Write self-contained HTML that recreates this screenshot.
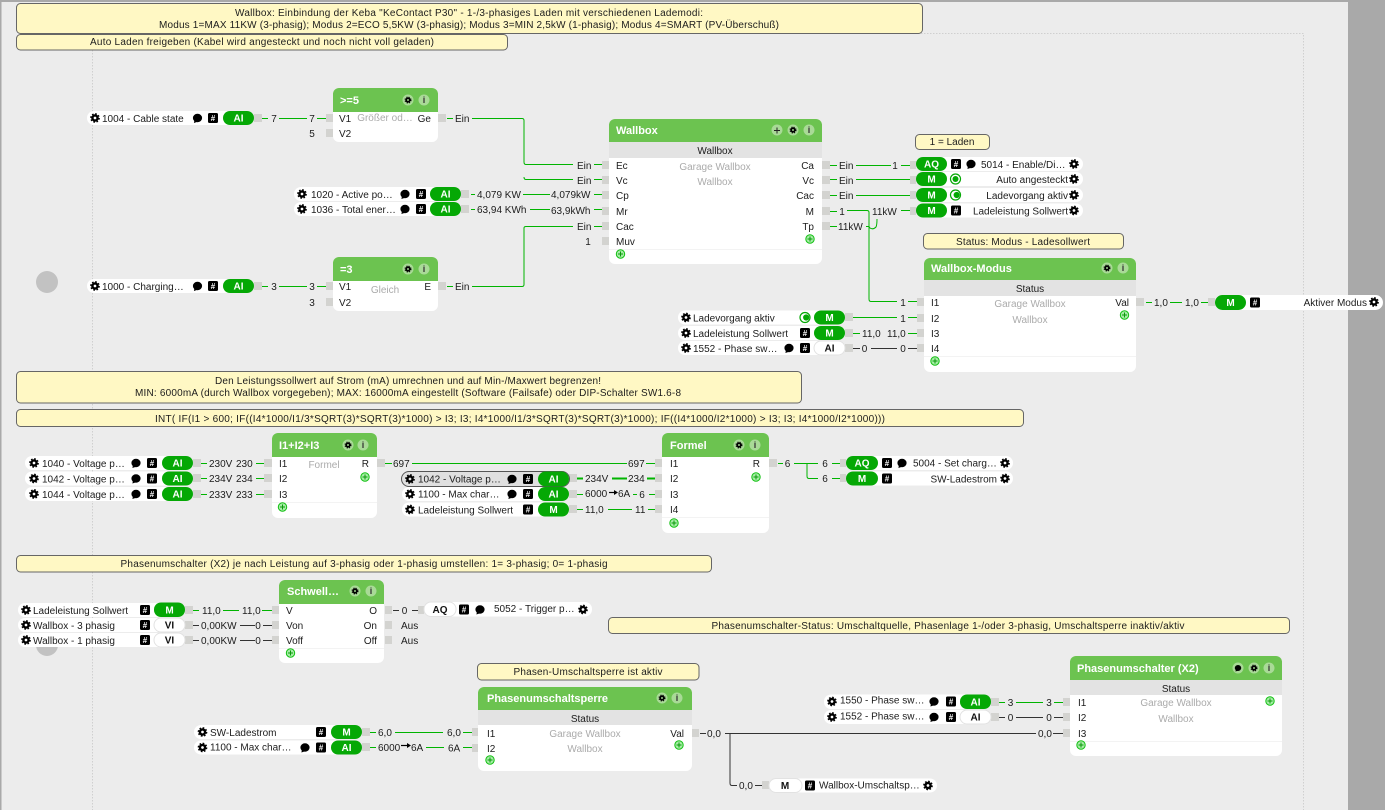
<!DOCTYPE html>
<html><head><meta charset="utf-8"><style>
html,body{margin:0;padding:0;background:#ececec;width:1385px;height:810px;overflow:hidden}
svg{display:block}
text{font-family:"Liberation Sans",sans-serif;font-size:10px;fill:#1c1c1c}
.m{text-anchor:middle}.e{text-anchor:end}
.g{fill:#ababab;text-anchor:middle}
.ti{font-size:11px;font-weight:bold;fill:#fff}
.p{font-weight:bold;fill:#fff;text-anchor:middle}
.d{font-weight:bold;fill:#111;text-anchor:middle}
.hs{font-size:8px;font-weight:bold;fill:#fff;text-anchor:middle}
.ii{font-size:9px;font-weight:bold;fill:#333;text-anchor:middle}
.lg{fill:none;stroke:#00b400;stroke-width:1}
.ld{fill:none;stroke:#333;stroke-width:1}
.n{fill:#fff8c4;stroke:#666;stroke-width:1}
.w{fill:#fff}.gr{fill:#05a805}.po{fill:#d3d3d0}.sb{fill:#e3e3e3}.he{fill:#6cc350}.hc{fill:#a9da97}
.wp{fill:#fff;stroke:#e2e2e2;stroke-width:1}
</style></head><body>
<svg width="1385" height="810" viewBox="0 0 1385 810" xmlns="http://www.w3.org/2000/svg">
<defs>
<g id="ge"><circle r="2.6" fill="none" stroke="#000" stroke-width="2.4"/><circle r="4.2" fill="none" stroke="#000" stroke-width="1.3" stroke-dasharray="1.7 1.6"/></g>
<g id="bb"><ellipse rx="4.6" ry="4.2" fill="#000"/><path d="M-3,2 L-3.6,5 L0.5,3.6z" fill="#000"/></g>
<rect id="hb" x="-5" y="-5" width="10" height="10" rx="1.5" fill="#000"/>
<g id="pl"><circle r="4.2" fill="#a6eca6" stroke="#10c010" stroke-width="1"/><path d="M-2.5,0H2.5M0,-2.5V2.5" stroke="#0a9a0a" stroke-width="1"/></g>
<g id="ra"><circle r="5" fill="#fff" stroke="#05a805" stroke-width="1.2"/><circle r="3" fill="#05a805"/></g>
<g id="to"><circle r="5" fill="#fff" stroke="#05a805" stroke-width="1.2"/><circle cx="1.2" r="3.1" fill="#05a805"/></g>
<g id="hg"><circle r="5.5" fill="#a9da97"/><circle r="1.8" fill="none" stroke="#000" stroke-width="1.7"/><circle r="3" fill="none" stroke="#000" stroke-width="1" stroke-dasharray="1.2 1.2"/></g>
<g id="hi"><circle r="5.5" fill="#a9da97"/></g>
</defs>

<rect width="1385" height="810" fill="#ececec"/>
<rect x="1348" width="37" height="810" fill="#a9a9a9"/>
<rect width="1.5" height="810" fill="#a9a9a9"/>
<rect width="1385" height="2" fill="#a9a9a9"/>
<path d="M92.500,50V810M507,33.500H1303.500V810" fill="none" stroke="#cfcfcf" stroke-dasharray="1.5 1.5"/>
<circle cx="47" cy="282" r="11" fill="#c2c2c2"/>
<circle cx="47" cy="645" r="11" fill="#c2c2c2"/>

<!-- notes -->
<rect class="n" x="16.500" y="3.500" width="906" height="30" rx="4"/>
<text class="m" x="469" y="16" textLength="468">Wallbox: Einbindung der Keba "KeContact P30" - 1-/3-phasiges Laden mit verschiedenen Lademodi:</text>
<text class="m" x="469" y="28" textLength="620">Modus 1=MAX 11KW (3-phasig); Modus 2=ECO 5,5KW (3-phasig); Modus 3=MIN 2,5kW (1-phasig); Modus 4=SMART (PV-Überschuß)</text>
<rect class="n" x="16.500" y="34.500" width="491" height="15.500" rx="4"/>
<text x="90" y="45" textLength="344">Auto Laden freigeben (Kabel wird angesteckt und noch nicht voll geladen)</text>
<rect class="n" x="915.500" y="134.500" width="74" height="15" rx="4"/>
<text class="m" x="952" y="145">1 = Laden</text>
<rect class="n" x="923.500" y="233.500" width="200" height="15.500" rx="4"/>
<text class="m" x="1023" y="245" textLength="134">Status: Modus - Ladesollwert</text>
<rect class="n" x="16.500" y="371.500" width="785" height="31.500" rx="4"/>
<text class="m" x="408" y="384" textLength="386">Den Leistungssollwert auf Strom (mA) umrechnen und auf Min-/Maxwert begrenzen!</text>
<text class="m" x="408" y="396" textLength="546">MIN: 6000mA (durch Wallbox vorgegeben); MAX: 16000mA eingestellt (Software (Failsafe) oder DIP-Schalter SW1.6-8</text>
<rect class="n" x="16.500" y="409.500" width="1007" height="17" rx="4"/>
<text class="m" x="520" y="422" textLength="730">INT( IF(I1 &gt; 600; IF((I4*1000/I1/3*SQRT(3)*SQRT(3)*1000) &gt; I3; I3; I4*1000/I1/3*SQRT(3)*SQRT(3)*1000); IF((I4*1000/I2*1000) &gt; I3; I3; I4*1000/I2*1000)))</text>
<rect class="n" x="16.500" y="555.500" width="695" height="16.500" rx="4"/>
<text class="m" x="364" y="567" textLength="487">Phasenumschalter (X2) je nach Leistung auf 3-phasig oder 1-phasig umstellen: 1= 3-phasig; 0= 1-phasig</text>
<rect class="n" x="608.500" y="617.500" width="681" height="16" rx="4"/>
<text class="m" x="948" y="629" textLength="473">Phasenumschalter-Status: Umschaltquelle, Phasenlage 1-/oder 3-phasig, Umschaltsperre inaktiv/aktiv</text>
<rect class="n" x="477.500" y="663.500" width="221.500" height="16.500" rx="4"/>
<text class="m" x="588" y="675" textLength="149">Phasen-Umschaltsperre ist aktiv</text>

<!-- connectors -->
<path class="lg" d="M262,118.500H268M279,118.500H307M317,118.500H326M262,286.500H268M279,286.500H307M317,286.500H326
M447,118.500H453M472,118.500H522Q524,118.500 524,120.500V162Q524,164.500 526,164.500H573M524,177Q524,179.500 526,179.500H573M594,164.500H602M594,179.500H602
M447,286.500H453M472,286.500H522Q524,286.500 524,284.500V228Q524,226.500 526,226.500H573M594,226.500H602
M471,194.500H475M523,194.500H550M594,194.500H602M471,209.500H475M530,209.500H550M594,209.500H602
M830,165.500H837M856,165.500H891M901,165.500H910M830,179.500H837M856,179.500H910M830,195.500H837M856,195.500H910
M830,211.500H837M847,210.500H867Q869,210.500 869,212.500V299Q869,301.500 871,301.500H897M908,301.500H917M901,210.500H910
M830,226.500H837M866,226.500H869Q869,226.500 870,228Q873,230 876,227Q877,225 877,219
M853,317.500H897M908,317.500H917M853,333.500H860M908,333.500H917
M1146,302.500H1152M1170,302.500H1182M1201,302.500H1208
M201,463.500H207M256,463.500H264M201,478.500H207M256,478.500H264M201,494.500H207M256,494.500H264
M385,463.500H392M412,463.500H627M646,463.500H655
M577,494.500H583M633,494.500H637M649,494.500H655M577,509.500H583M608,509.500H632M648,509.500H655
M778,463.500H783M794,463.500H818M832,463.500H840M807,463.500V476Q807,478.500 809,478.500H818M832,478.500H840
M193,610.500H199M223,610.500H239M262,610.500H272
M370,732.500H376M395,732.500H443M463,732.500H472M370,747.500H376M426,747.500H444M463,747.500H472
M999,702.500H1005M1016,702.500H1043M1054,702.500H1063"/>
<path d="M577,478.500H583M612,478.500H627M647,478.500H655" fill="none" stroke="#00b400" stroke-width="2"/>
<path class="ld" d="M853,348.500H860M871,348.500H897M908,348.500H917
M193,625.500H199M240,625.500H255M263,625.500H272M193,640.500H199M240,640.500H255M263,640.500H272
M393,610.500H399M412,610.500H418
M700,733.500H706M725,733.500H1036M1053,733.500H1063M730,733.500V783Q730,785.500 732,785.500H737M755,785.500H762
M999,717.500H1005M1016,717.500H1043M1054,717.500H1063"/>

<!-- ports -->
<g class="po">
<rect x="254" y="114" width="8" height="8"/><rect x="326" y="114" width="7" height="8"/><rect x="326" y="129" width="7" height="8"/><rect x="438" y="114" width="8" height="8"/>
<rect x="254" y="282" width="8" height="8"/><rect x="326" y="282" width="7" height="8"/><rect x="326" y="298" width="7" height="8"/><rect x="438" y="282" width="8" height="8"/>
<rect x="461" y="190" width="8" height="8"/><rect x="461" y="205" width="8" height="8"/>
<rect x="602" y="161" width="7" height="8"/><rect x="602" y="176" width="7" height="8"/><rect x="602" y="191" width="7" height="8"/><rect x="602" y="207" width="7" height="8"/><rect x="602" y="222" width="7" height="8"/><rect x="602" y="237" width="7" height="8"/>
<rect x="822" y="161" width="8" height="8"/><rect x="822" y="176" width="8" height="8"/><rect x="822" y="191" width="8" height="8"/><rect x="822" y="207" width="8" height="8"/><rect x="822" y="222" width="8" height="8"/>
<rect x="910" y="161" width="6" height="8"/><rect x="910" y="176" width="6" height="8"/><rect x="910" y="191" width="6" height="8"/><rect x="910" y="207" width="6" height="8"/>
<rect x="917" y="298" width="7" height="8"/><rect x="917" y="314" width="7" height="8"/><rect x="917" y="329" width="7" height="8"/><rect x="917" y="344" width="7" height="8"/>
<rect x="845" y="313" width="8" height="8"/><rect x="845" y="329" width="8" height="8"/><rect x="845" y="344" width="8" height="8"/>
<rect x="1136" y="298" width="8" height="8"/><rect x="1208" y="298" width="7" height="8"/>
<rect x="193" y="459" width="8" height="8"/><rect x="193" y="474" width="8" height="8"/><rect x="193" y="490" width="8" height="8"/>
<rect x="264" y="459" width="8" height="8"/><rect x="264" y="474" width="8" height="8"/><rect x="264" y="490" width="8" height="8"/>
<rect x="377" y="459" width="8" height="8"/>
<rect x="569" y="474" width="8" height="8"/><rect x="569" y="490" width="8" height="8"/><rect x="569" y="505" width="8" height="8"/>
<rect x="655" y="459" width="7" height="8"/><rect x="655" y="474" width="7" height="8"/><rect x="655" y="490" width="7" height="8"/><rect x="655" y="505" width="7" height="8"/>
<rect x="769" y="459" width="8" height="8"/><rect x="840" y="459" width="6" height="8"/><rect x="840" y="474" width="6" height="8"/>
<rect x="185" y="606" width="8" height="8"/><rect x="185" y="621" width="8" height="8"/><rect x="185" y="636" width="8" height="8"/>
<rect x="272" y="606" width="7" height="8"/><rect x="272" y="621" width="7" height="8"/><rect x="272" y="636" width="7" height="8"/>
<rect x="385" y="606" width="7" height="8"/><rect x="385" y="621" width="7" height="8"/><rect x="385" y="636" width="7" height="8"/><rect x="418" y="606" width="6" height="8"/>
<rect x="362" y="728" width="8" height="8"/><rect x="362" y="743" width="8" height="8"/><rect x="472" y="728" width="6" height="8"/><rect x="472" y="744" width="6" height="8"/>
<rect x="691" y="729" width="8" height="8"/><rect x="762" y="781" width="7" height="8"/>
<rect x="991" y="698" width="8" height="8"/><rect x="991" y="713" width="8" height="8"/><rect x="1063" y="698" width="7" height="8"/><rect x="1063" y="713" width="7" height="8"/><rect x="1063" y="729" width="7" height="8"/>
</g>

<!-- block >=5 -->
<rect class="w" x="333" y="88" width="105" height="54" rx="6"/>
<path class="he" d="M333,112V94a6,6 0 0 1 6,-6H432a6,6 0 0 1 6,6V112z"/>
<text class="ti" x="340" y="104">&gt;=5</text>
<use href="#hg" x="408" y="100"/><use href="#hi" x="424" y="100"/><text class="ii" x="424" y="103">i</text>
<text x="339" y="122">V1</text><text x="339" y="137">V2</text><text class="g" x="385" y="121">Größer od…</text><text class="e" x="431" y="122">Ge</text>
<!-- block =3 -->
<rect class="w" x="333" y="257" width="105" height="54" rx="6"/>
<path class="he" d="M333,281V263a6,6 0 0 1 6,-6H432a6,6 0 0 1 6,6V281z"/>
<text class="ti" x="340" y="273">=3</text>
<use href="#hg" x="408" y="269"/><use href="#hi" x="424" y="269"/><text class="ii" x="424" y="272">i</text>
<text x="339" y="290">V1</text><text x="339" y="306">V2</text><text class="g" x="385" y="293">Gleich</text><text class="e" x="431" y="290">E</text>

<!-- Wallbox -->
<rect class="w" x="609" y="119" width="213" height="145" rx="6"/>
<path class="he" d="M609,142V125a6,6 0 0 1 6,-6H816a6,6 0 0 1 6,6V142z"/><rect class="sb" x="609" y="142" width="213" height="16"/>
<text class="ti" x="616" y="134">Wallbox</text>
<circle class="hc" cx="777" cy="130" r="5.5"/><path d="M774,130.500H780M777,127.500V133.500" stroke="#222" fill="none"/><use href="#hg" x="793" y="130"/><use href="#hi" x="809" y="130"/><text class="ii" x="809" y="133">i</text>
<text class="m" x="715" y="154">Wallbox</text><text class="g" x="715" y="170">Garage Wallbox</text><text class="g" x="715" y="185">Wallbox</text>
<text x="616" y="169">Ec</text><text x="616" y="184">Vc</text><text x="616" y="199">Cp</text><text x="616" y="215">Mr</text><text x="616" y="230">Cac</text><text x="616" y="245">Muv</text>
<text class="e" x="814" y="169">Ca</text><text class="e" x="814" y="184">Vc</text><text class="e" x="814" y="199">Cac</text><text class="e" x="814" y="215">M</text><text class="e" x="814" y="230">Tp</text>
<path d="M609,249.500H822" stroke="#f3f3f3"/><use href="#pl" x="620.500" y="254"/><use href="#pl" x="810" y="239"/>

<!-- Wallbox-Modus -->
<rect class="w" x="924" y="258" width="212" height="114" rx="6"/>
<path class="he" d="M924,280V264a6,6 0 0 1 6,-6H1130a6,6 0 0 1 6,6V280z"/><rect class="sb" x="924" y="280" width="212" height="16"/>
<text class="ti" x="931" y="272">Wallbox-Modus</text>
<use href="#hg" x="1107" y="268"/><use href="#hi" x="1123" y="268"/><text class="ii" x="1123" y="271">i</text>
<text class="m" x="1030" y="292">Status</text><text class="g" x="1030" y="307">Garage Wallbox</text><text class="g" x="1030" y="323">Wallbox</text>
<text x="931" y="306">I1</text><text x="931" y="322">I2</text><text x="931" y="337">I3</text><text x="931" y="352">I4</text><text class="e" x="1129" y="306">Val</text>
<path d="M924,356.500H1136" stroke="#f3f3f3"/><use href="#pl" x="935" y="361"/><use href="#pl" x="1124.500" y="315"/>

<!-- I1+I2+I3 -->
<rect class="w" x="272" y="433" width="105" height="85" rx="6"/>
<path class="he" d="M272,457V439a6,6 0 0 1 6,-6H371a6,6 0 0 1 6,6V457z"/>
<text class="ti" x="279" y="449">I1+I2+I3</text>
<use href="#hg" x="348" y="445"/><use href="#hi" x="363" y="445"/><text class="ii" x="363" y="448">i</text>
<text x="279" y="467">I1</text><text x="279" y="482">I2</text><text x="279" y="498">I3</text><text class="g" x="324" y="468">Formel</text><text class="e" x="369" y="467">R</text>
<path d="M272,502.500H377" stroke="#f3f3f3"/><use href="#pl" x="282.500" y="507"/><use href="#pl" x="365" y="477"/>

<!-- Formel -->
<rect class="w" x="662" y="433" width="107" height="100" rx="6"/>
<path class="he" d="M662,457V439a6,6 0 0 1 6,-6H763a6,6 0 0 1 6,6V457z"/>
<text class="ti" x="670" y="449">Formel</text>
<use href="#hg" x="739" y="445"/><use href="#hi" x="755" y="445"/><text class="ii" x="755" y="448">i</text>
<text x="670" y="467">I1</text><text x="670" y="482">I2</text><text x="670" y="498">I3</text><text x="670" y="513">I4</text><text class="e" x="760" y="467">R</text>
<path d="M662,517.500H769" stroke="#f3f3f3"/><use href="#pl" x="674" y="523"/><use href="#pl" x="756" y="477"/>

<!-- Schwellwert -->
<rect class="w" x="279" y="580" width="105" height="83" rx="6"/>
<path class="he" d="M279,604V586a6,6 0 0 1 6,-6H378a6,6 0 0 1 6,6V604z"/>
<text class="ti" x="287" y="595">Schwell…</text>
<use href="#hg" x="355" y="591"/><use href="#hi" x="371" y="591"/><text class="ii" x="371" y="594">i</text>
<text x="286" y="614">V</text><text x="286" y="629">Von</text><text x="286" y="644">Voff</text>
<text class="e" x="377" y="614">O</text><text class="e" x="377" y="629">On</text><text class="e" x="377" y="644">Off</text>
<path d="M279,648.500H384" stroke="#f3f3f3"/><use href="#pl" x="290.500" y="653"/>

<!-- Phasenumschaltsperre -->
<rect class="w" x="478" y="687" width="214" height="84" rx="6"/>
<path class="he" d="M478,710V693a6,6 0 0 1 6,-6H686a6,6 0 0 1 6,6V710z"/><rect class="sb" x="478" y="710" width="214" height="15"/>
<text class="ti" x="487" y="702">Phasenumschaltsperre</text>
<use href="#hg" x="662" y="698"/><use href="#hi" x="677" y="698"/><text class="ii" x="677" y="701">i</text>
<text class="m" x="585" y="722">Status</text><text class="g" x="585" y="737">Garage Wallbox</text><text class="g" x="585" y="752">Wallbox</text>
<text x="487" y="737">I1</text><text x="487" y="752">I2</text><text class="e" x="684" y="737">Val</text>
<use href="#pl" x="490" y="760"/><use href="#pl" x="679" y="745"/>

<!-- Phasenumschalter -->
<rect class="w" x="1070" y="656" width="212" height="100" rx="6"/>
<path class="he" d="M1070,680V662a6,6 0 0 1 6,-6H1276a6,6 0 0 1 6,6V680z"/><rect class="sb" x="1070" y="680" width="212" height="15"/>
<text class="ti" x="1077" y="672">Phasenumschalter (X2)</text>
<circle class="hc" cx="1238" cy="668" r="5.500"/><g transform="translate(1238 668) scale(.7)"><use href="#bb"/></g><use href="#hg" x="1254" y="668"/><use href="#hi" x="1269" y="668"/><text class="ii" x="1269" y="671">i</text>
<text class="m" x="1176" y="692">Status</text><text class="g" x="1176" y="706">Garage Wallbox</text><text class="g" x="1176" y="722">Wallbox</text>
<text x="1078" y="706">I1</text><text x="1078" y="721">I2</text><text x="1078" y="737">I3</text>
<path d="M1070,741.500H1282" stroke="#f3f3f3"/><use href="#pl" x="1081" y="745"/><use href="#pl" x="1270" y="701"/>

<!-- rows: cable / charging -->
<rect class="w" x="87" y="111" width="167" height="14" rx="7"/><rect class="gr" x="223" y="111" width="31" height="14" rx="7"/><text class="p" x="238.500" y="121.500">AI</text>
<use href="#ge" x="95" y="118"/><text x="102" y="122">1004 - Cable state</text><use href="#bb" x="197.500" y="118"/><use href="#hb" x="213" y="118"/><text class="hs" x="213" y="121">#</text>
<rect class="w" x="87" y="279" width="167" height="14" rx="7"/><rect class="gr" x="223" y="279" width="31" height="14" rx="7"/><text class="p" x="238.500" y="289.500">AI</text>
<use href="#ge" x="95" y="286"/><text x="102" y="290">1000 - Charging…</text><use href="#bb" x="197.500" y="286"/><use href="#hb" x="213" y="286"/><text class="hs" x="213" y="289">#</text>
<rect class="w" x="294" y="187" width="167" height="14" rx="7"/><rect class="gr" x="430" y="187" width="31" height="14" rx="7"/><text class="p" x="445.500" y="197.500">AI</text>
<use href="#ge" x="302" y="194"/><text x="311" y="198">1020 - Active po…</text><use href="#bb" x="405" y="194"/><use href="#hb" x="421" y="194"/><text class="hs" x="421" y="197">#</text>
<rect class="w" x="294" y="202" width="167" height="14" rx="7"/><rect class="gr" x="430" y="202" width="31" height="14" rx="7"/><text class="p" x="445.500" y="212.500">AI</text>
<use href="#ge" x="302" y="209"/><text x="311" y="213">1036 - Total ener…</text><use href="#bb" x="405" y="209"/><use href="#hb" x="421" y="209"/><text class="hs" x="421" y="212">#</text>

<!-- rows right of Wallbox -->
<rect class="w" x="916" y="157" width="167" height="14" rx="7"/><rect class="gr" x="916" y="157" width="31" height="14" rx="7"/><text class="p" x="931.500" y="167.500">AQ</text>
<use href="#hb" x="956" y="164"/><text class="hs" x="956" y="167">#</text><use href="#bb" x="971" y="164"/><text x="981" y="168">5014 - Enable/Di…</text><use href="#ge" x="1074" y="164"/>
<rect class="w" x="916" y="172" width="167" height="14" rx="7"/><rect class="gr" x="916" y="172" width="31" height="14" rx="7"/><text class="p" x="931.500" y="182.500">M</text>
<use href="#ra" x="955.500" y="179"/><text class="e" x="1068" y="183">Auto angesteckt</text><use href="#ge" x="1074" y="179"/>
<rect class="w" x="916" y="188" width="167" height="14" rx="7"/><rect class="gr" x="916" y="188" width="31" height="14" rx="7"/><text class="p" x="931.500" y="198.500">M</text>
<use href="#to" x="955.500" y="195"/><text class="e" x="1068" y="199">Ladevorgang aktiv</text><use href="#ge" x="1074" y="195"/>
<rect class="w" x="916" y="203.500" width="167" height="14" rx="7"/><rect class="gr" x="916" y="203.500" width="31" height="14" rx="7"/><text class="p" x="931.500" y="214">M</text>
<use href="#hb" x="956" y="210.500"/><text class="hs" x="956" y="213.500">#</text><text class="e" x="1068" y="214.500">Ladeleistung Sollwert</text><use href="#ge" x="1074" y="210.500"/>

<!-- rows left of Wallbox-Modus -->
<rect class="w" x="678" y="310.500" width="167" height="14" rx="7"/><rect class="gr" x="814" y="310.500" width="31" height="14" rx="7"/><text class="p" x="829.500" y="321">M</text>
<use href="#ge" x="686" y="317.500"/><text x="693" y="321.500">Ladevorgang aktiv</text><use href="#to" x="805" y="317.500"/>
<rect class="w" x="678" y="326" width="167" height="14" rx="7"/><rect class="gr" x="814" y="326" width="31" height="14" rx="7"/><text class="p" x="829.500" y="336.500">M</text>
<use href="#ge" x="686" y="333"/><text x="693" y="337">Ladeleistung Sollwert</text><use href="#hb" x="805" y="333"/><text class="hs" x="805" y="336">#</text>
<rect class="w" x="678" y="341" width="167" height="14" rx="7"/><rect class="wp" x="814" y="341" width="31" height="14" rx="7"/><text class="d" x="829.500" y="351.500">AI</text>
<use href="#ge" x="686" y="348"/><text x="693" y="352">1552 - Phase sw…</text><use href="#bb" x="789" y="348"/><use href="#hb" x="805" y="348"/><text class="hs" x="805" y="351">#</text>

<!-- Aktiver Modus -->
<rect class="w" x="1215" y="295" width="168" height="15" rx="7.500"/><rect class="gr" x="1215" y="295" width="31" height="15" rx="7.500"/><text class="p" x="1230.500" y="306">M</text>
<use href="#hb" x="1255" y="302.500"/><text class="hs" x="1255" y="305.500">#</text><text class="e" x="1367" y="306">Aktiver Modus</text><use href="#ge" x="1374" y="302"/>

<!-- voltage rows -->
<rect class="w" x="25" y="456" width="168" height="14" rx="7"/><rect class="gr" x="162" y="456" width="31" height="14" rx="7"/><text class="p" x="177.500" y="466.500">AI</text>
<use href="#ge" x="34" y="463"/><text x="42" y="467">1040 - Voltage p…</text><use href="#bb" x="136" y="463"/><use href="#hb" x="152" y="463"/><text class="hs" x="152" y="466">#</text>
<rect class="w" x="25" y="471.500" width="168" height="14" rx="7"/><rect class="gr" x="162" y="471.500" width="31" height="14" rx="7"/><text class="p" x="177.500" y="482">AI</text>
<use href="#ge" x="34" y="478.500"/><text x="42" y="482.500">1042 - Voltage p…</text><use href="#bb" x="136" y="478.500"/><use href="#hb" x="152" y="478.500"/><text class="hs" x="152" y="481.500">#</text>
<rect class="w" x="25" y="487" width="168" height="14" rx="7"/><rect class="gr" x="162" y="487" width="31" height="14" rx="7"/><text class="p" x="177.500" y="497.500">AI</text>
<use href="#ge" x="34" y="494"/><text x="42" y="498">1044 - Voltage p…</text><use href="#bb" x="136" y="494"/><use href="#hb" x="152" y="494"/><text class="hs" x="152" y="497">#</text>

<!-- Formel rows -->
<rect x="401.500" y="471.500" width="168" height="15" rx="7.500" fill="#e0e0e0" stroke="#555"/><rect class="gr" x="538" y="471.500" width="31" height="15" rx="7.500"/><text class="p" x="553.500" y="482.500">AI</text>
<use href="#ge" x="410" y="479"/><text x="418" y="482.500">1042 - Voltage p…</text><use href="#bb" x="512" y="479"/><use href="#hb" x="528" y="479"/><text class="hs" x="528" y="482">#</text>
<rect class="w" x="402" y="487" width="167" height="14" rx="7"/><rect class="gr" x="538" y="487" width="31" height="14" rx="7"/><text class="p" x="553.500" y="497.500">AI</text>
<use href="#ge" x="410" y="494"/><text x="418" y="497.500">1100 - Max char…</text><use href="#bb" x="512" y="494"/><use href="#hb" x="528" y="494"/><text class="hs" x="528" y="497">#</text>
<rect class="w" x="402" y="502.500" width="167" height="14" rx="7"/><rect class="gr" x="538" y="502.500" width="31" height="14" rx="7"/><text class="p" x="553.500" y="513">M</text>
<use href="#ge" x="410" y="509.500"/><text x="418" y="513.500">Ladeleistung Sollwert</text><use href="#hb" x="528" y="509.500"/><text class="hs" x="528" y="512.500">#</text>

<!-- Formel outputs -->
<rect class="w" x="846" y="456" width="167" height="14" rx="7"/><rect class="gr" x="846" y="456" width="32" height="14" rx="7"/><text class="p" x="862" y="466.500">AQ</text>
<use href="#hb" x="887" y="463"/><text class="hs" x="887" y="466">#</text><use href="#bb" x="902" y="463"/><text x="913" y="466.500">5004 - Set charg…</text><use href="#ge" x="1005" y="463"/>
<rect class="w" x="846" y="471.500" width="167" height="14" rx="7"/><rect class="gr" x="846" y="471.500" width="32" height="14" rx="7"/><text class="p" x="862" y="482">M</text>
<use href="#hb" x="887" y="478.500"/><text class="hs" x="887" y="481.500">#</text><text class="e" x="997" y="482.500">SW-Ladestrom</text><use href="#ge" x="1005" y="478.500"/>

<!-- Schwellwert rows -->
<rect class="w" x="18" y="603" width="167" height="14" rx="7"/><rect class="gr" x="154" y="602.500" width="31" height="14.500" rx="7"/><text class="p" x="169.500" y="613.500">M</text>
<use href="#ge" x="26" y="610"/><text x="33" y="614">Ladeleistung Sollwert</text><use href="#hb" x="145" y="610"/><text class="hs" x="145" y="613">#</text>
<rect class="w" x="18" y="618" width="167" height="14" rx="7"/><rect class="wp" x="154" y="618" width="31" height="14" rx="7"/><text class="d" x="169.500" y="628.500">VI</text>
<use href="#ge" x="26" y="625"/><text x="33" y="629">Wallbox - 3 phasig</text><use href="#hb" x="145" y="625"/><text class="hs" x="145" y="628">#</text>
<rect class="w" x="18" y="633" width="167" height="14" rx="7"/><rect class="wp" x="154" y="633" width="31" height="14" rx="7"/><text class="d" x="169.500" y="643.500">VI</text>
<use href="#ge" x="26" y="640"/><text x="33" y="644">Wallbox - 1 phasig</text><use href="#hb" x="145" y="640"/><text class="hs" x="145" y="643">#</text>
<rect class="w" x="424" y="602" width="168" height="14.500" rx="7"/><rect class="wp" x="424" y="602" width="32" height="14.500" rx="7"/><text class="d" x="440" y="613">AQ</text>
<use href="#hb" x="464" y="609.500"/><text class="hs" x="464" y="612.500">#</text><use href="#bb" x="480" y="609.500"/><text x="494" y="612">5052 - Trigger p…</text><use href="#ge" x="583" y="609.500"/>

<!-- Phasenumschaltsperre rows -->
<rect class="w" x="194" y="725" width="168" height="14" rx="7"/><rect class="gr" x="331" y="725" width="31" height="14" rx="7"/><text class="p" x="346.500" y="735.500">M</text>
<use href="#ge" x="202.500" y="732"/><text x="210" y="736">SW-Ladestrom</text><use href="#hb" x="321" y="732"/><text class="hs" x="321" y="735">#</text>
<rect class="w" x="194" y="740.500" width="168" height="14" rx="7"/><rect class="gr" x="331" y="740.500" width="31" height="14" rx="7"/><text class="p" x="346.500" y="751">AI</text>
<use href="#ge" x="202.500" y="747.500"/><text x="210" y="750.500">1100 - Max char…</text><use href="#bb" x="305" y="747.500"/><use href="#hb" x="321" y="747.500"/><text class="hs" x="321" y="750.500">#</text>
<rect class="w" x="769" y="778.500" width="168" height="14" rx="7"/><rect class="wp" x="769" y="778.500" width="33" height="14" rx="7"/><text class="d" x="785" y="789">M</text>
<use href="#hb" x="810" y="785.500"/><text class="hs" x="810" y="788.500">#</text><text x="819" y="788.500">Wallbox-Umschaltsp…</text><use href="#ge" x="928" y="785.500"/>

<!-- Phasenumschalter rows -->
<rect class="w" x="824" y="694.500" width="167" height="14.500" rx="7"/><rect class="gr" x="960" y="694.500" width="31" height="14.500" rx="7"/><text class="p" x="975.500" y="705.500">AI</text>
<use href="#ge" x="832" y="701.500"/><text x="840" y="703.500">1550 - Phase sw…</text><use href="#bb" x="934" y="701.500"/><use href="#hb" x="951" y="701.500"/><text class="hs" x="951" y="704.500">#</text>
<rect class="w" x="824" y="710" width="167" height="14" rx="7"/><rect class="wp" x="960" y="710" width="31" height="14" rx="7"/><text class="d" x="975.500" y="720.500">AI</text>
<use href="#ge" x="832" y="717"/><text x="840" y="719.500">1552 - Phase sw…</text><use href="#bb" x="934" y="717"/><use href="#hb" x="951" y="717"/><text class="hs" x="951" y="720">#</text>

<!-- value labels -->
<text class="m" x="274" y="122">7</text><text class="m" x="312" y="122">7</text><text class="m" x="312" y="137">5</text>
<text class="m" x="274" y="290">3</text><text class="m" x="312" y="290">3</text><text class="m" x="312" y="306">3</text>
<text x="455" y="122">Ein</text><text x="455" y="290">Ein</text>
<text x="577" y="169">Ein</text><text x="577" y="184">Ein</text><text x="577" y="230">Ein</text><text class="m" x="588" y="245">1</text>
<text x="477" y="198">4,079 KW</text><text x="551" y="198">4,079kW</text>
<text x="477" y="213">63,94 KWh</text><text x="551" y="214">63,9kWh</text>
<text x="839" y="169">Ein</text><text x="839" y="184">Ein</text><text x="839" y="199">Ein</text><text class="m" x="895" y="169">1</text>
<text class="m" x="842" y="215">1</text><text x="872" y="215">11kW</text><text x="838" y="230">11kW</text>
<text class="m" x="903" y="306">1</text><text class="m" x="903" y="322">1</text>
<text x="862" y="337">11,0</text><text x="887" y="337">11,0</text><text class="m" x="864.500" y="352">0</text><text class="m" x="903" y="352">0</text>
<text x="1154" y="306">1,0</text><text x="1185" y="306">1,0</text>
<text x="209" y="467">230V</text><text x="236" y="467">230</text><text x="209" y="482">234V</text><text x="236" y="482">234</text><text x="209" y="498">233V</text><text x="236" y="498">233</text>
<text x="393" y="467">697</text><text x="628" y="467">697</text>
<text x="585" y="482">234V</text><text x="628" y="482">234</text>
<text x="585" y="497">6000</text><path d="M609,492.500H615" stroke="#000" stroke-width="1.200"/><path d="M614,490L618,492.500L614,495z" fill="#000"/><text x="618" y="497">6A</text><text class="m" x="642" y="498">6</text>
<text x="585" y="513">11,0</text><text x="635" y="513">11</text>
<text class="m" x="787.500" y="467">6</text><text class="m" x="825" y="467">6</text><text class="m" x="825" y="482">6</text>
<text x="202" y="614">11,0</text><text x="242" y="614">11,0</text>
<text x="201" y="629">0,00KW</text><text class="m" x="258" y="629">0</text><text x="201" y="644">0,00KW</text><text class="m" x="258" y="644">0</text>
<text class="m" x="404.500" y="614">0</text><text x="401" y="629">Aus</text><text x="401" y="644">Aus</text>
<text x="378" y="736">6,0</text><text x="447" y="736">6,0</text>
<text x="378" y="751">6000</text><path d="M401,745.500H408" stroke="#000" stroke-width="1.200"/><path d="M407,743L411,745.500L407,748z" fill="#000"/><text x="411" y="751">6A</text><text x="448" y="751.500">6A</text>
<text x="707" y="737">0,0</text><text x="1038" y="737">0,0</text><text x="739" y="789">0,0</text>
<text class="m" x="1010.500" y="706">3</text><text class="m" x="1049" y="706">3</text><text class="m" x="1010.500" y="721">0</text><text class="m" x="1049" y="721">0</text>
</svg>
</body></html>
